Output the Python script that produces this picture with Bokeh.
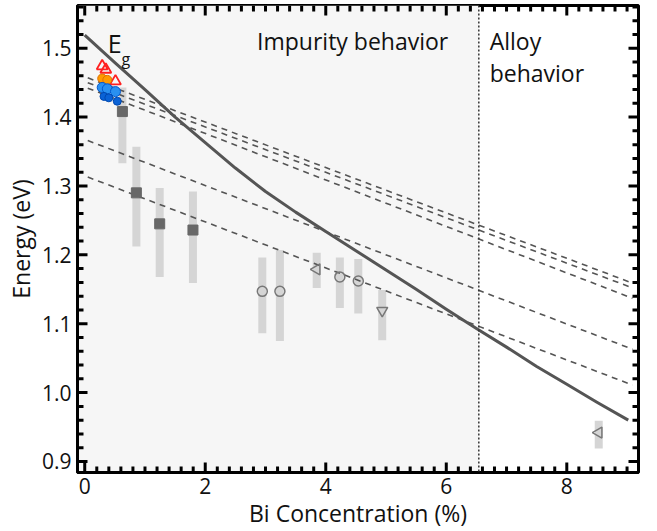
from bokeh.plotting import figure
from bokeh.models import BoxAnnotation, Span, Label, FixedTicker, Range1d
from bokeh.embed import file_html
from bokeh.resources import INLINE
from bokeh.core.properties import value

FONT = "Open Sans"

# ---- data ----
# Band gap Eg curve
eg_x = [0.0, 0.5, 1.0, 1.5, 2.0, 2.5, 3.0, 3.5, 4.0, 4.5, 5.0, 5.5, 6.0, 6.5,
        7.0, 7.5, 8.0, 8.5, 9.02]
eg_y = [1.519, 1.479, 1.440, 1.400, 1.363, 1.326, 1.292, 1.262, 1.234, 1.206,
        1.178, 1.150, 1.121, 1.093, 1.066, 1.038, 1.012, 0.986, 0.960]

# Dashed T lines (start / end)
t_names = ["2", "3", "4", "5", "8"]
t_x0 = [0.05, 0.05, 0.05, 0.05, 0.05]
t_x1 = [9.09, 9.09, 9.09, 9.09, 9.09]
t_y0 = [1.457, 1.450, 1.442, 1.366, 1.313]
t_y1 = [1.159, 1.152, 1.137, 1.063, 1.011]
t_label_y = [1.173, 1.142, 1.106, 1.055, 1.001]

# grey squares with error bars
sq_x = [0.625, 0.857, 1.244, 1.796]
sq_y = [1.408, 1.290, 1.245, 1.236]
sq_lo = [1.333, 1.212, 1.168, 1.159]
sq_hi = [1.443, 1.357, 1.297, 1.292]

# open circles
ci_x = [2.947, 3.239, 4.234, 4.540]
ci_y = [1.147, 1.147, 1.168, 1.162]
ci_lo = [1.086, 1.075, 1.123, 1.115]
ci_hi = [1.196, 1.207, 1.196, 1.194]

# left-pointing triangles
lt_x = [3.85, 8.53]
lt_y = [1.179, 0.942]
lt_lo = [1.152, 0.919]
lt_hi = [1.203, 0.959]

# down triangle
dt_x = [4.937]
dt_y = [1.119]
dt_lo = [1.076]
dt_hi = [1.149]

# coloured low-concentration points
red_x = [0.29, 0.35, 0.51]
red_y = [1.474, 1.469, 1.452]
org_x = [0.29, 0.375]
org_y = [1.456, 1.454]
blu_x = [0.29, 0.375, 0.51]
blu_y = [1.443, 1.441, 1.437]
dblu_x = [0.32, 0.40, 0.54]
dblu_y = [1.430, 1.428, 1.423]

x_major = [0, 2, 4, 6, 8]
y_major = [0.9, 1.0, 1.1, 1.2, 1.3, 1.4, 1.5]
x_minor = [round(0.2 * i, 2) for i in range(0, 46)]
y_minor = [round(0.90 + 0.02 * i, 2) for i in range(0, 34)]
boundary_x = 6.54

# ---- figure ----
XR = (-0.12, 9.19)
YR = (0.884, 1.562)
FW, FH = 561, 471
p = figure(width=657, height=531, output_backend="svg", toolbar_location=None,
           x_range=Range1d(*XR), y_range=Range1d(*YR),
           min_border_left=77, min_border_right=19, min_border_top=5,
           min_border_bottom=55)
p.background_fill_color = "white"
p.border_fill_color = "white"
p.xgrid.visible = False
p.ygrid.visible = False
p.outline_line_color = "black"
p.outline_line_width = 3

p.add_layout(BoxAnnotation(right=boundary_x, fill_color="#f6f6f6", fill_alpha=1.0,
                           line_color=None, level="underlay"))
p.add_layout(Span(location=boundary_x, dimension="height", line_color="#333333",
                  line_width=1.5, line_dash="2 2"))

# error bars
for xs, lo, hi in [(sq_x, sq_lo, sq_hi), (ci_x, ci_lo, ci_hi),
                   (lt_x, lt_lo, lt_hi), (dt_x, dt_lo, dt_hi)]:
    p.segment(x0=xs, y0=lo, x1=xs, y1=hi, line_width=8, line_color="#d5d5d5",
              line_cap="butt")

# dashed lines
p.segment(x0=t_x0, y0=t_y0, x1=t_x1, y1=t_y1, line_color="#555555",
          line_width=1.6, line_dash="6 5")

# Eg curve
p.line(eg_x, eg_y, line_color="#555555", line_width=3, line_join="round")

# markers
p.scatter(sq_x, sq_y, marker="square", size=10, fill_color="#686868",
          line_color="#686868")
p.scatter(ci_x, ci_y, marker="circle", size=10, fill_color=None,
          line_color="#777777", line_width=1.5)
p.scatter(lt_x, lt_y, marker="triangle", angle=1.5708, size=11, fill_color=None,
          line_color="#777777", line_width=1.5)
p.scatter(dt_x, dt_y, marker="inverted_triangle", size=11, fill_color=None,
          line_color="#777777", line_width=1.5)

p.scatter(red_x, red_y, marker="triangle", size=11, fill_color=None,
          line_color="#ff2020", line_width=1.8)
p.scatter(org_x, org_y, marker="circle", size=9, fill_color="#ff9a00",
          line_color="#e07000", line_width=1)
p.scatter(blu_x, blu_y, marker="circle", size=10, fill_color="#2a90f0",
          line_color="#0058d0", line_width=1)
p.scatter(dblu_x, dblu_y, marker="circle", size=8, fill_color="#0a62d6",
          line_color="#0048b0", line_width=1)

# inward ticks on all four sides (segments built from the tick lists)
xpx = (XR[1] - XR[0]) / FW
ypx = (YR[1] - YR[0]) / FH
x_minor_only = [t for t in x_minor if all(abs(t - m) > 1e-6 for m in x_major)]
y_minor_only = [t for t in y_minor if all(abs(t - m) > 1e-6 for m in y_major)]
for ticks, L in [(x_major, 10), (x_minor_only, 6)]:
    n = len(ticks)
    p.segment(x0=ticks, y0=[YR[0]] * n, x1=ticks, y1=[YR[0] + L * ypx] * n,
              line_color="black", line_width=3)
    p.segment(x0=ticks, y0=[YR[1]] * n, x1=ticks, y1=[YR[1] - L * ypx] * n,
              line_color="black", line_width=3)
for ticks, L in [(y_major, 10), (y_minor_only, 6)]:
    n = len(ticks)
    p.segment(x0=[XR[0]] * n, y0=ticks, x1=[XR[0] + L * xpx] * n, y1=ticks,
              line_color="black", line_width=3)
    p.segment(x0=[XR[1]] * n, y0=ticks, x1=[XR[1] - L * xpx] * n, y1=ticks,
              line_color="black", line_width=3)

# texts inside the plot
def txt(x, y, s, size, align="left"):
    p.text(x=[x], y=[y], text=[s], text_font=value(FONT), text_font_size=size,
           text_baseline="middle", text_align=align, text_color="#111111")

txt(0.38, 1.508, "E", "25px")
txt(0.61, 1.485, "g", "16px")
txt(2.86, 1.511, "Impurity behavior", "23px")
txt(6.72, 1.511, "Alloy", "23px")
txt(6.72, 1.464, "behavior", "23px")

# T labels outside right edge
for name, ly in zip(t_names, t_label_y):
    p.add_layout(Label(x=XR[1], y=ly, x_offset=3, text="T", text_font=FONT,
                       text_font_size="25px", text_baseline="middle",
                       text_color="#111111"))
    p.add_layout(Label(x=XR[1], y=ly - 0.021, x_offset=16, text=name, text_font=FONT,
                       text_font_size="16px", text_baseline="middle",
                       text_color="#111111"))

# axes
for ax in (p.xaxis[0], p.yaxis[0]):
    ax.axis_line_color = "black"
    ax.axis_line_width = 3
    ax.major_tick_in = 0
    ax.major_tick_out = 0
    ax.minor_tick_in = 0
    ax.minor_tick_out = 0
    ax.major_label_text_font = FONT
    ax.major_label_text_font_size = "21px"
    ax.major_label_text_color = "#111111"
    ax.axis_label_text_font = FONT
    ax.axis_label_text_font_size = "23px"
    ax.axis_label_text_font_style = "normal"
    ax.axis_label_text_color = "#111111"

p.xaxis[0].ticker = FixedTicker(ticks=x_major)
p.yaxis[0].ticker = FixedTicker(ticks=y_major)
p.xaxis[0].axis_label = "Bi Concentration (%)"
p.yaxis[0].axis_label = "Energy (eV)"
p.yaxis[0].major_label_overrides = {1.0: "1.0"}
p.xaxis[0].major_label_standoff = 5
p.yaxis[0].major_label_standoff = 6
p.xaxis[0].axis_label_standoff = 0
p.yaxis[0].axis_label_standoff = 2

open("out.html", "w").write(file_html(p, INLINE))
